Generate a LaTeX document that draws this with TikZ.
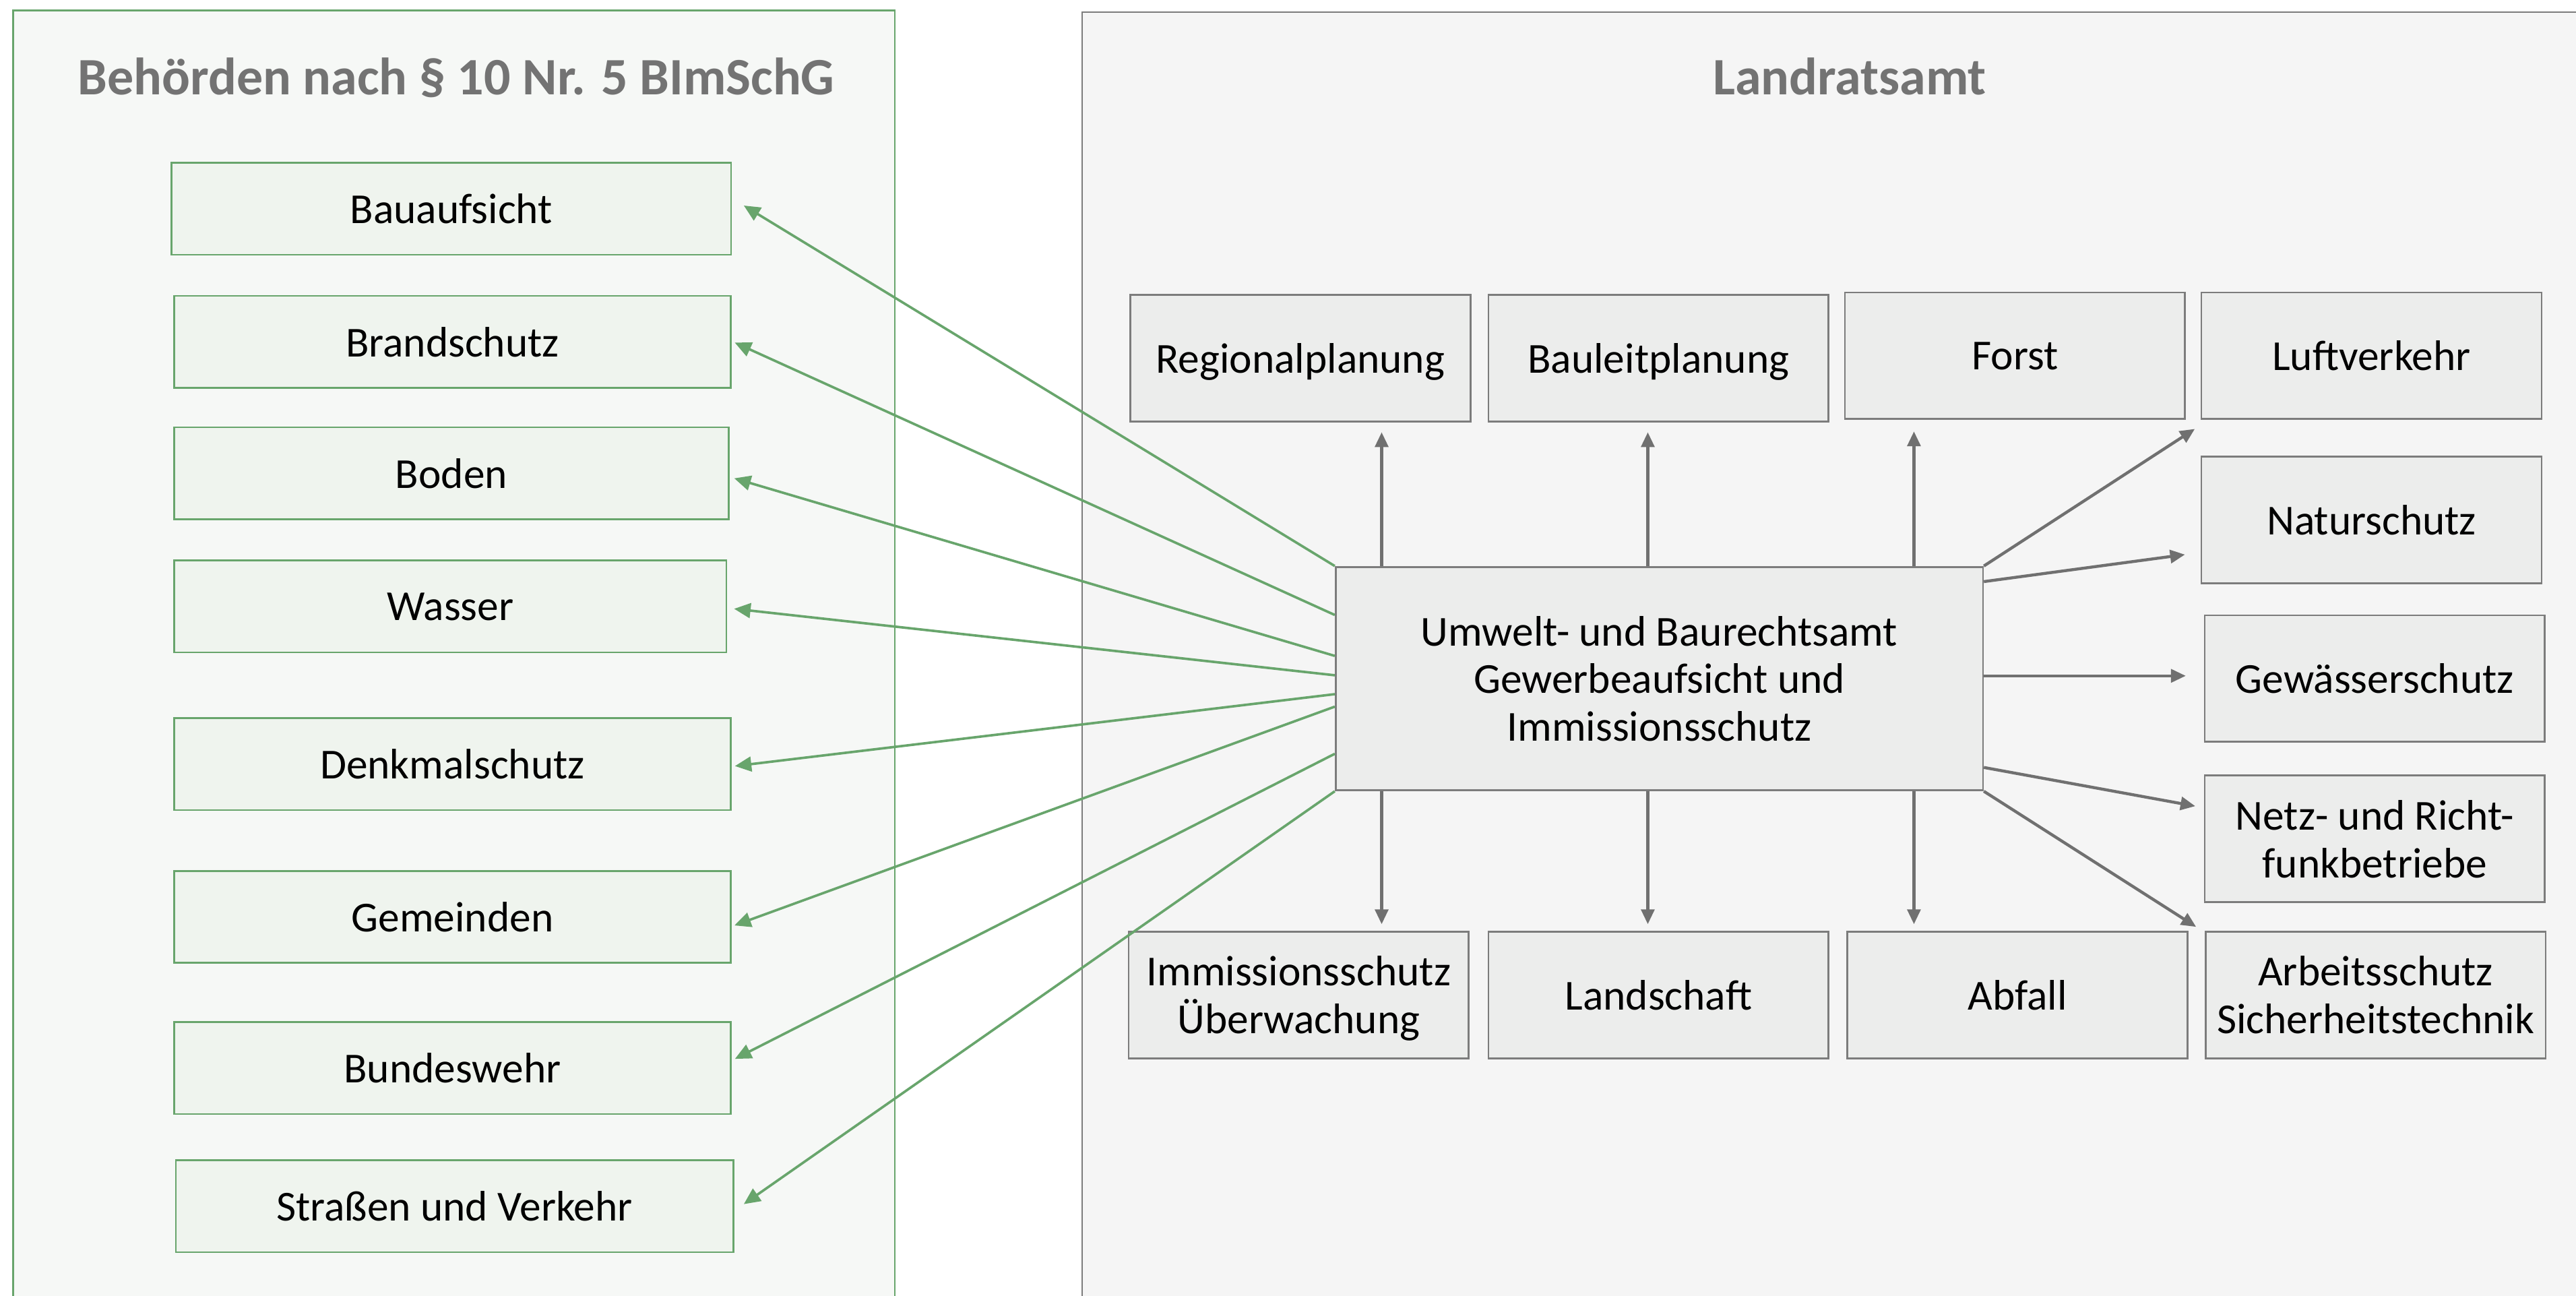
\documentclass[tikz,border=0pt]{standalone}
\usepackage{fontspec}
\setmainfont{Carlito}
\usetikzlibrary{arrows.meta,calc}
\definecolor{grn}{HTML}{68A56C}
\definecolor{lbg}{HTML}{F6F8F6}
\definecolor{lboxbg}{HTML}{EFF4EE}
\definecolor{rbg}{HTML}{F5F5F5}
\definecolor{rboxbg}{HTML}{ECEDEC}
\definecolor{gbord}{HTML}{7C7C7C}
\definecolor{garr}{HTML}{707070}
\definecolor{ttlc}{HTML}{737373}
\begin{document}
\begin{tikzpicture}[x=1pt,y=-1pt,
  ttl/.style={font=\fontsize{32}{38}\selectfont\bfseries, text=ttlc, anchor=base, inner sep=0pt},
  lbox/.style={draw=grn, fill=lboxbg, line width=1.1pt, minimum height=56pt, inner sep=0pt,
    font=\fontsize{26}{29}\selectfont, text depth=0pt, align=center},
  rbox/.style={draw=gbord, fill=rboxbg, line width=1.1pt, minimum width=207pt, minimum height=77pt, inner sep=0pt,
    font=\fontsize{26}{29}\selectfont, text depth=0pt, align=center},
  grayarr/.style={draw=garr, line width=1.8pt, -{Triangle[length=9pt,width=8pt]}},
  greenarr/.style={draw=grn, line width=1.5pt, -{Triangle[length=10pt,width=9pt]}}]
\useasboundingbox (0,0) rectangle (1568,788.7);
\clip (0,0) rectangle (1568,788.7);
% panels
\draw[fill=lbg, draw=grn, line width=1pt] (8,6.4) rectangle (544.6,800);
\draw[fill=rbg, draw=gbord, line width=1pt] (658.8,7.3) rectangle (1590,800);
\node[ttl] (t1) at (277.7,57.8) {Behörden nach § 10 Nr. 5 BImSchG};
\node[ttl] (t2) at (1125.8,57.5) {Landratsamt};
% left boxes
\node[lbox, minimum width=340.6pt] (bau) at (274.7,127) {Bauaufsicht};
\node[lbox, minimum width=339pt] (bra) at (275.4,208) {Brandschutz};
\node[lbox, minimum width=337.6pt] (bod) at (274.8,288) {Boden};
\node[lbox, minimum width=336pt] (was) at (274.1,369) {Wasser};
\node[lbox, minimum width=338.8pt] (den) at (275.4,465) {Denkmalschutz};
\node[lbox, minimum width=338.8pt] (gem) at (275.4,558) {Gemeinden};
\node[lbox, minimum width=338.8pt] (bun) at (275.4,650) {Bundeswehr};
\node[lbox, minimum width=339.4pt] (str) at (276.7,734) {Straßen und Verkehr};
% right boxes
\node[rbox] (reg) at (791.5,218) {Regionalplanung};
\node[rbox] (bl) at (1009.5,218) {Bauleitplanung};
\node[rbox] (for) at (1226.5,216.5) {Forst};
\node[rbox] (luf) at (1443.5,216.5) {Luftverkehr};
\node[rbox] (nat) at (1443.5,316.5) {Naturschutz};
\node[rbox] (gew) at (1445.5,413) {Gewässerschutz};
\node[rbox] (net) at (1445.5,510.5) {Netz- und Richt-\\funkbetriebe};
\node[rbox] (imm) at (790.5,605.5) {Immissionsschutz\\Überwachung};
\node[rbox] (lan) at (1009.5,605.5) {Landschaft};
\node[rbox] (abf) at (1228,605.5) {Abfall};
\node[rbox] (arb) at (1446,605.5) {Arbeitsschutz\\Sicherheitstechnik};
% center
\node[rbox, minimum width=394pt, minimum height=136pt] (c) at (1010,413) {Umwelt- und Baurechtsamt\\Gewerbeaufsicht und\\Immissionsschutz};
% gray arrows
\coordinate (xa) at (841,0);
\coordinate (xb) at (1003,0);
\coordinate (xc) at (1165,0);
\draw[grayarr] (c.north -| xa) -- ($(reg.south -| xa)+(0,6)$);
\draw[grayarr] (c.north -| xb) -- ($(bl.south -| xb)+(0,6)$);
\draw[grayarr] (c.north -| xc) -- ($(for.south -| xc)+(0,7)$);
\draw[grayarr] (c.south -| xa) -- ($(imm.north -| xa)+(0,-4)$);
\draw[grayarr] (c.south -| xb) -- ($(lan.north -| xb)+(0,-4)$);
\draw[grayarr] (c.south -| xc) -- ($(abf.north -| xc)+(0,-4)$);
\draw[grayarr] (c.north east) -- ($(luf.south west)+(-3.5,5.5)$);
\draw[grayarr] ($(c.north east)+(0,9.5)$) -- ($(nat.west)+(-9.5,21)$);
\draw[grayarr] ($(c.east)+(0,-1.7)$) -- ($(gew.west)+(-11,-1.7)$);
\draw[grayarr] ($(c.north east)+(0,122.6)$) -- ($(net.west)+(-5.2,-19.9)$);
\draw[grayarr] (c.south east) -- ($(arb.north west)+(-5.2,-2.4)$);
% green arrows
\draw[greenarr] (c.north west) -- ($(bau.east)+(7.2,-1.9)$);
\draw[greenarr] ($(c.north west)+(0,29.8)$) -- ($(bra.east)+(1.8,0.5)$);
\draw[greenarr] ($(c.north west)+(0,54.7)$) -- ($(bod.east)+(2.8,3.1)$);
\draw[greenarr] ($(c.north west)+(0,66.5)$) -- ($(was.east)+(4.2,1.5)$);
\draw[greenarr] ($(c.north west)+(0,78)$) -- ($(den.east)+(2,1.2)$);
\draw[greenarr] ($(c.north west)+(0,85.6)$) -- ($(gem.east)+(1.7,5.2)$);
\draw[greenarr] ($(c.north west)+(0,114.3)$) -- ($(bun.east)+(2,-5.6)$);
\draw[greenarr] (c.south west) -- ($(str.east)+(5.8,-1.2)$);
\end{tikzpicture}
\end{document}
